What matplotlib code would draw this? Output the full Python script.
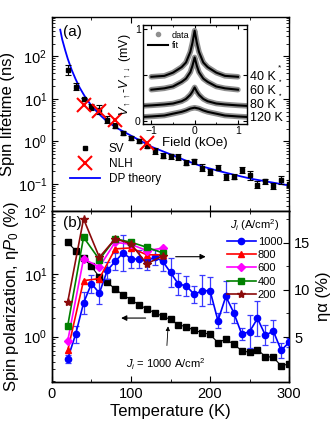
import numpy as np
import matplotlib
matplotlib.use('Agg')
import matplotlib.pyplot as plt
from matplotlib.ticker import MultipleLocator, LogLocator, NullFormatter

plt.rcParams['font.family'] = ['Liberation Sans', 'DejaVu Sans']
plt.rcParams['mathtext.fontset'] = 'custom'
plt.rcParams['mathtext.rm'] = 'Liberation Sans'
plt.rcParams['mathtext.it'] = 'Liberation Sans:italic'
plt.rcParams['mathtext.bf'] = 'Liberation Sans:bold'
plt.rcParams['xtick.direction'] = 'in'
plt.rcParams['ytick.direction'] = 'in'
plt.rcParams['axes.linewidth'] = 1.0

# (a) spin lifetime vs temperature
sv_T = [20, 30, 40, 50, 60, 70, 80, 90, 100, 110, 120, 130, 140, 150, 160,
        170, 180, 190, 200, 210, 220, 230, 240, 250, 260, 270, 280, 290, 300]
sv_tau = [48, 19.5, 9.7, 6.3, 5.6, 3.2, 2.3, 1.55, 1.2, 1.0, 0.79, 0.59, 0.46, 0.44, 0.42,
          0.31, 0.34, 0.24, 0.19, 0.24, 0.148, 0.148, 0.21, 0.158, 0.096, 0.115, 0.087, 0.124, 0.1]
sv_err_dex = [0.125, 0.09, 0.03, 0.07, 0.1, 0.08, 0.06, 0.05, 0.05, 0.05, 0.05, 0.06, 0.06, 0.05, 0.07,
              0.06, 0.06, 0.08, 0.07, 0.06, 0.07, 0.05, 0.07, 0.1, 0.08, 0.06, 0.07, 0.1, 0.08]
nlh_T = [40, 60, 80, 120]
nlh_tau = [7.0, 5.3, 3.2, 0.91]
dp_T = [10.5, 13, 16.9, 20, 25, 30, 35, 40, 43.5, 50, 60, 70, 84, 105, 127, 148, 169, 190,
        211, 232, 253, 274, 300]
dp_tau = [425, 250, 137, 88, 48, 29, 18.5, 12.8, 10, 6.9, 4.3, 2.9, 1.97, 1.21, 0.73, 0.51,
          0.354, 0.256, 0.2, 0.16, 0.13, 0.111, 0.091]

# inset: Hanle curves
field_short = [-1, -0.7, -0.5, -0.3, -0.2, -0.1, -0.05, 0, 0.05, 0.1, 0.2, 0.3, 0.5, 0.7, 1]
field_long = [-1.2, -1, -0.7, -0.5, -0.3, -0.2, -0.1, -0.05, 0, 0.05, 0.1, 0.2, 0.3, 0.5, 0.7, 1, 1.2]
v_40K = [0.48, 0.49, 0.525, 0.585, 0.635, 0.75, 0.85, 0.98, 0.85, 0.75, 0.635, 0.585, 0.525, 0.49, 0.48]
v_60K = [0.34, 0.355, 0.375, 0.425, 0.46, 0.53, 0.6, 0.69, 0.6, 0.53, 0.46, 0.425, 0.375, 0.355, 0.34]
v_80K = [0.165, 0.17, 0.18, 0.19, 0.215, 0.24, 0.285, 0.32, 0.365, 0.32, 0.285, 0.24, 0.215, 0.19, 0.18, 0.17, 0.165]
v_120K = [0.045, 0.05, 0.06, 0.08, 0.1, 0.115, 0.135, 0.14, 0.145, 0.14, 0.135, 0.115, 0.1, 0.08, 0.06, 0.05, 0.045]
inset_labels = ['40 K', '60 K', '80 K', '120 K']

# (b) spin polarization vs temperature
pb_T = [20, 30, 40, 50, 60, 70, 80, 90, 100, 110, 120, 130, 140, 150, 160,
        170, 180, 190, 200, 210, 220, 230, 240, 250, 260, 270, 280, 290, 300]
pol_1000 = [31.6, 23.3, 17.6, 13.1, 8.85, 7.3, 5.7, 4.6, 3.85, 3.2, 2.76, 2.39, 2.11, 1.87, 1.53,
            1.44, 1.25, 1.16, 1.08, 0.80, 0.91, 0.75, 0.60, 0.56, 0.62, 0.48, 0.47, 0.34, 0.37]
eta_1000 = [2.7, 5.3, 8.6, 10.65, 9.65, 12.05, 13.0, 13.9, 13.27, 13.24, 13.06, 13.45, 13.03, 11.83, 10.6,
            10.42, 9.5, 9.9, 9.9, 6.73, 9.3, 7.57, 5.32, 5.56, 6.97, 5.18, 5.63, 3.59, 4.44]
eta_1000_err = [0.45, 0.9, 1.2, 0.95, 1.2, 0.9, 0.9, 1.9, 0.95, 0.95, 0.95, 0.8, 1.05, 1.5, 1.2,
                1.05, 0.9, 1.65, 1.4, 0.8, 1.6, 1.05, 0.6, 1.75, 1.85, 1.05, 1.2, 0.8, 0.5]
low_T = [20, 40, 60, 80, 100, 120, 140]
eta_800 = [3.58, 10.97, 11.18, 14.33, 14.43, 13.7, 13.7]
eta_600 = [4.6, 13.27, 12.42, 15.03, 14.8, 14.15, 14.4]
eta_400 = [6.2, 15.56, 13.2, 15.4, 15.03, 14.5, 13.9]
eta_200 = [8.71, 17.5, 13.44, 15.4, 14.86, 12.74, 13.6]

fig = plt.figure(figsize=(3.35, 4.33), dpi=100)
ax_a = fig.add_axes([0.155, 0.513, 0.708, 0.448])
ax_b = fig.add_axes([0.155, 0.118, 0.708, 0.395])
ax_b2 = ax_b.twinx()

# ---- panel (a)
ax_a.plot(dp_T, dp_tau, color='#0000ff', lw=1.3, label='DP theory', zorder=2)
sv_tau_arr = np.array(sv_tau)
sv_e = np.array(sv_err_dex)
yerr = [sv_tau_arr - sv_tau_arr * 10 ** (-sv_e), sv_tau_arr * 10 ** sv_e - sv_tau_arr]
ax_a.errorbar(sv_T, sv_tau, yerr=yerr, fmt='none', ecolor='k', elinewidth=0.8,
              capsize=2.5, capthick=0.8, zorder=3)
ax_a.plot(sv_T, sv_tau, 's', color='k', ms=3.5, ls='none', label='SV', zorder=4)
ax_a.plot(nlh_T, nlh_tau, 'x', color='#ff0000', ms=10, mew=1.5, ls='none', label='NLH', zorder=5)
ax_a.set_yscale('log')
ax_a.set_xlim(0, 300)
ax_a.set_ylim(0.023, 850)
ax_a.set_ylabel('Spin lifetime (ns)', fontsize=12, labelpad=2)
ax_a.xaxis.set_major_locator(MultipleLocator(100))
ax_a.xaxis.set_minor_locator(MultipleLocator(50))
ax_a.yaxis.set_major_locator(LogLocator(base=10, numticks=10))
ax_a.yaxis.set_minor_locator(LogLocator(base=10, subs=np.arange(2, 10), numticks=10))
ax_a.yaxis.set_minor_formatter(NullFormatter())
ax_a.tick_params(which='both', top=True, right=True, labelbottom=False, labelsize=10.5)
ax_a.tick_params(which='major', length=4)
ax_a.tick_params(which='minor', length=2)
h, l = ax_a.get_legend_handles_labels()
order = [l.index('SV'), l.index('NLH'), l.index('DP theory')]
ax_a.legend([h[i] for i in order], [l[i] for i in order], loc='lower left',
            bbox_to_anchor=(0.03, 0.08), frameon=False, fontsize=8.5,
            handlelength=2.6, handletextpad=0.7, labelspacing=0.25)
ax_a.text(0.045, 0.96, '(a)', transform=ax_a.transAxes, fontsize=11, va='top')

# ---- inset
ax_in = fig.add_axes([0.426, 0.714, 0.310, 0.228])
gray = '#8f8f8f'
ax_in.plot(field_short, v_40K, color=gray, lw=4, solid_capstyle='round')
ax_in.plot(field_short, v_60K, color=gray, lw=4, solid_capstyle='round')
ax_in.plot(field_long, v_80K, color=gray, lw=4, solid_capstyle='round')
ax_in.plot(field_long, v_120K, color=gray, lw=4, solid_capstyle='round')
ax_in.plot(field_short, v_40K, color='k', lw=1.5)
ax_in.plot(field_short, v_60K, color='k', lw=1.5)
ax_in.plot(field_long, v_80K, color='k', lw=1.5)
ax_in.plot(field_long, v_120K, color='k', lw=1.5)
ax_in.plot([], [], 'o', color=gray, ms=3, label='data')
ax_in.plot([], [], '-', color='k', lw=1.5, label='fit')
ax_in.legend(loc='upper left', frameon=False, fontsize=6.5, handlelength=2.2,
             handletextpad=0.4, labelspacing=0.2, borderaxespad=0.2)
ax_in.set_xlim(-1.2, 1.2)
ax_in.set_ylim(-0.03, 1.04)
ax_in.set_xticks([-1, 0, 1])
ax_in.set_xticks([-0.5, 0.5], minor=True)
ax_in.set_yticks([0, 0.5, 1])
ax_in.set_yticklabels(['0', '', '1'])
ax_in.tick_params(which='both', top=True, right=True, labelsize=7.5, pad=1.5)
ax_in.tick_params(which='major', length=3)
ax_in.tick_params(which='minor', length=1.5)
ax_in.set_xlabel('Field (kOe)', fontsize=9.5, labelpad=1)
ax_in.set_ylabel(r'$V_{\uparrow\uparrow}$-$V_{\uparrow\downarrow}$ (mV)', fontsize=9, labelpad=1)
for lab, yp in zip(inset_labels, [77.3, 90.5, 105, 118.3]):
    fig.text(249.5 / 335, 1 - yp / 433, lab, fontsize=9, va='center', ha='left')
# small star marks beside the 40 K and 60 K labels
fig.text(277.5 / 335, 1 - 68 / 433, '*', fontsize=6, va='center', ha='left')
fig.text(277 / 335, 1 - 81.5 / 433, '⋆', fontsize=5, va='center', ha='left',
         family=['DejaVu Sans'])
fig.text(277 / 335, 1 - 95.5 / 433, '⋆', fontsize=5, va='center', ha='left',
         family=['DejaVu Sans'])

# ---- panel (b)
ax_b.plot(pb_T, pol_1000, 's-', color='k', ms=4, lw=0.8, zorder=2)
ax_b.set_yscale('log')
ax_b.set_xlim(0, 300)
ax_b.set_ylim(0.19, 100)
ax_b.set_xlabel('Temperature (K)', fontsize=12, labelpad=2)
ax_b.set_ylabel(r'Spin polarization, η$\mathit{P_0}$ (%)', fontsize=12, labelpad=2)
ax_b.xaxis.set_major_locator(MultipleLocator(100))
ax_b.xaxis.set_minor_locator(MultipleLocator(50))
ax_b.yaxis.set_major_locator(LogLocator(base=10, numticks=10))
ax_b.yaxis.set_minor_locator(LogLocator(base=10, subs=np.arange(2, 10), numticks=10))
ax_b.yaxis.set_minor_formatter(NullFormatter())
ax_b.tick_params(which='both', top=True, labelsize=10.5)
ax_b.tick_params(which='major', length=4)
ax_b.tick_params(which='minor', length=2)

ax_b2.errorbar(pb_T, eta_1000, yerr=eta_1000_err, fmt='none', ecolor='#3a3aff',
               elinewidth=0.9, capsize=2.5, capthick=0.9, zorder=2)
ax_b2.plot(pb_T, eta_1000, 'o-', color='#0000ff', ms=4.5, lw=1.2, label='1000', zorder=3)
ax_b2.plot(low_T, eta_800, '^-', color='#ff0000', ms=5, lw=1.2, label='800', zorder=4)
ax_b2.plot(low_T, eta_600, 'D-', color='#ff00ff', ms=4, lw=1.2, label='600', zorder=4)
ax_b2.plot(low_T, eta_400, 's-', color='#008000', ms=4.5, lw=1.2, label='400', zorder=4)
ax_b2.plot(low_T, eta_200, '*-', color='#8b0a0a', ms=6, lw=1.2, label='200', zorder=4)
ax_b2.set_ylim(0.25, 18.35)
ax_b2.yaxis.set_major_locator(MultipleLocator(5))
ax_b2.yaxis.set_minor_locator(MultipleLocator(2.5))
ax_b2.tick_params(which='both', labelsize=10.5)
ax_b2.tick_params(which='major', length=4)
ax_b2.tick_params(which='minor', length=2)
ax_b2.set_ylabel('ηα (%)', fontsize=12, labelpad=4)
leg = ax_b2.legend(loc='upper right', bbox_to_anchor=(1.0, 1.0), frameon=False,
                   fontsize=8, title=r'$J_i$ (A/cm$^2$)', title_fontsize=8,
                   handlelength=2.6, handletextpad=0.2, labelspacing=0.3, borderaxespad=0.2)

ax_b.text(0.045, 0.97, '(b)', transform=ax_b.transAxes, fontsize=11, va='top')
ax_b.annotate('', xy=(84, 1.97), xytext=(122, 1.97),
              arrowprops=dict(arrowstyle='-|>', color='k', lw=0.8, mutation_scale=8))
ax_b2.annotate('', xy=(198, 13.5), xytext=(153, 13.5),
               arrowprops=dict(arrowstyle='-|>', color='k', lw=0.8, mutation_scale=8))
ax_b.annotate(r'$J_i$ = 1000 A/cm$^2$', xy=(147, 1.53), xytext=(144, 0.36),
              fontsize=8, ha='center', va='center',
              arrowprops=dict(arrowstyle='-|>', color='k', lw=0.6, mutation_scale=6,
                              shrinkA=6, shrinkB=1))

fig.savefig('out.png', dpi=100)
